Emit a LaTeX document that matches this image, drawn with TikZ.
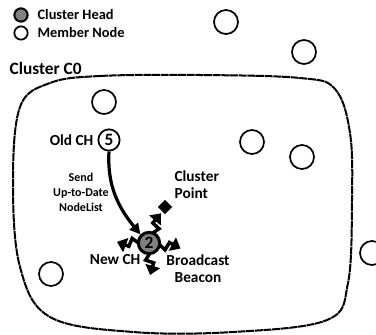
\documentclass[tikz,border=0pt]{standalone}
\usepackage{fontspec}
\setmainfont{Carlito}
\usetikzlibrary{arrows.meta,shapes.geometric,calc}

\tikzset{
  member/.style={circle,draw,line width=1.3pt,minimum size=18pt,inner sep=0pt},
  headnode/.style={circle,draw,line width=2.2pt,fill=gray,minimum size=16pt,inner sep=0pt,font=\bfseries\fontsize{13}{13}\selectfont},
  lbl/.style={font=\bfseries\fontsize{11.5}{12.5}\selectfont,align=center,inner sep=1pt},
  smalllbl/.style={font=\bfseries\fontsize{9}{11.3}\selectfont,align=center,inner sep=1pt},
  bolt/.style={line width=2.6pt,-{Triangle[length=7pt,width=11pt]}}
}

\begin{document}
\begin{tikzpicture}[x=0.75pt,y=0.75pt]
  \useasboundingbox (0,0) rectangle (376,335);

  % legende
  \node[headnode,minimum size=10pt,line width=1.5pt] (lgch) at (21,320) {};
  \node[smalllbl,anchor=west,font=\bfseries\fontsize{10.8}{12}\selectfont] (lgchtxt) at (36,320) {Cluster Head};
  \node[member,minimum size=10pt,line width=1.3pt] (lgmem) at (21,302) {};
  \node[smalllbl,anchor=west,font=\bfseries\fontsize{10.8}{12}\selectfont] (lgmemtxt) at (36,302) {Member Node};

  \node[lbl,anchor=west,font=\bfseries\fontsize{13}{14}\selectfont] (title) at (8,267) {Cluster C0};

  % rand van het cluster
  \draw[line width=1.5pt,dash pattern=on 6pt off 0.5pt]
    plot[smooth cycle,tension=0.6] coordinates {
      (50,252) (100,259) (200,260) (300,257) (335,246) (350,202)
      (352,135) (348,52) (327,15) (233,3) (133,3) (50,18)
      (20,68) (13,152) (20,228)};

  % gewone knopen
  \node[member] (m1) at (226,313) {};
  \node[member] (m2) at (304,283) {};
  \node[member] (m3) at (104,233) {};
  \node[member] (m4) at (252,193) {};
  \node[member] (m5) at (302,178) {};
  \node[member] (m6) at (372,82) {};
  \node[member] (m7) at (51,61) {};

  % oude en nieuwe clusterhead
  \node[member,minimum size=16pt,font=\bfseries\fontsize{13}{13}\selectfont] (old) at (109,195) {5};
  \node[headnode] (new) at (149,92) {2};
  \node[diamond,fill=black,minimum size=11pt,inner sep=0pt] (cp) at (165,128) {};

  \node[lbl,anchor=east] (oldtxt) at (95,195) {Old CH};
  \node[smalllbl] (sendtxt) at (81,143) {Send\\Up-to-Date\\NodeList};
  \node[lbl,anchor=west,align=left] (cptxt) at (173,150) {Cluster\\Point};
  \node[lbl,anchor=east] (newtxt) at (142,75) {New CH};
  \node[lbl] (bctxt) at (198,66) {Broadcast\\Beacon};

  % lijst doorsturen
  \draw[line width=2.4pt,-{Triangle[length=8pt,width=8pt]}]
    (old.south) .. controls (107,150) and (118,128) .. (new.north west);

  % beacon bliksems
  \foreach \a in {68,178,-10,-88} {
    \draw[bolt,rotate around={\a:(new.center)}]
      ($(new.center)+(11,0)$) -- ++(6,-4) -- ++(3,8) -- ++(12,-4);
  }

\end{tikzpicture}
\end{document}
